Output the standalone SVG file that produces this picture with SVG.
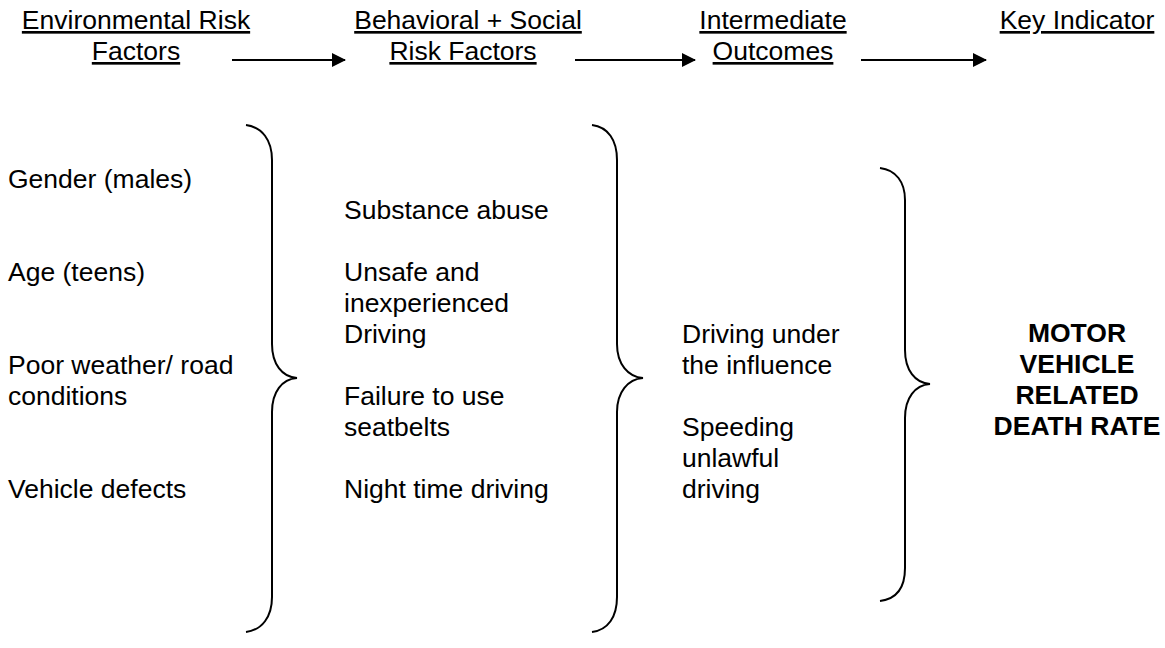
<svg xmlns="http://www.w3.org/2000/svg" width="1165" height="648" viewBox="0 0 1165 648">
<style>
text{font-family:"Liberation Sans",Arial,sans-serif;font-size:26.5px;fill:#000}
.h{text-anchor:middle;text-decoration:underline}
.b{font-weight:bold;text-anchor:middle}
.brace{fill:none;stroke:#000;stroke-width:2}
.arr{stroke:#000;stroke-width:2;fill:none}
</style>
<defs>
<marker id="ah" markerWidth="14" markerHeight="14" viewBox="0 0 14 14" refX="13" refY="7" orient="auto" markerUnits="userSpaceOnUse">
<path d="M0,0 L14,7 L0,14 Z" fill="#000"/>
</marker>
</defs>
<rect width="1165" height="648" fill="#fff"/>
<g id="header-env"><text class="h" x="136" y="29">Environmental Risk</text><text class="h" x="136" y="60">Factors</text></g>
<g id="header-beh"><text class="h" x="468" y="29">Behavioral + Social</text><text class="h" x="463" y="60">Risk Factors</text></g>
<g id="header-int"><text class="h" x="773" y="29">Intermediate</text><text class="h" x="773" y="60">Outcomes</text></g>
<g id="header-key"><text class="h" x="1077" y="29">Key Indicator</text></g>
<g id="connectors">
<line class="arr" x1="232" y1="60" x2="345" y2="60" marker-end="url(#ah)"/>
<line class="arr" x1="575" y1="60" x2="695" y2="60" marker-end="url(#ah)"/>
<line class="arr" x1="861" y1="60" x2="986" y2="60" marker-end="url(#ah)"/>
</g>
<g id="env-factors">
<text x="8" y="188">Gender (males)</text>
<text x="8" y="281">Age (teens)</text>
<text x="8" y="374">Poor weather/ road</text>
<text x="8" y="405">conditions</text>
<text x="8" y="498">Vehicle defects</text>
</g>
<g id="brace-1"><path class="brace" d="M246,125 C262,127 272,140 272,160 L272,344 C272,364 282,377 297,378 C282,379 272,392 272,412 L272,597 C272,617 262,630 246,632"/></g>
<g id="behavioral-factors">
<text x="344" y="219">Substance abuse</text>
<text x="344" y="281">Unsafe and</text>
<text x="344" y="312">inexperienced</text>
<text x="344" y="343">Driving</text>
<text x="344" y="405">Failure to use</text>
<text x="344" y="436">seatbelts</text>
<text x="344" y="498">Night time driving</text>
</g>
<g id="brace-2"><path class="brace" d="M592,125 C608,127 617,140 617,160 L617,344 C617,364 628,377 643,378 C628,379 617,392 617,412 L617,597 C617,617 608,630 592,632"/></g>
<g id="intermediate-outcomes">
<text x="682" y="343">Driving under</text>
<text x="682" y="374">the influence</text>
<text x="682" y="436">Speeding</text>
<text x="682" y="467">unlawful</text>
<text x="682" y="498">driving</text>
</g>
<g id="brace-3"><path class="brace" d="M880,168 C896,170 905,182 905,200 L905,350 C905,370 915,383 930,384 C915,385 905,398 905,418 L905,568 C905,588 896,599 880,601"/></g>
<g id="key-indicator">
<text class="b" x="1077" y="342">MOTOR</text>
<text class="b" x="1077" y="373">VEHICLE</text>
<text class="b" x="1077" y="404">RELATED</text>
<text class="b" x="1077" y="435">DEATH RATE</text>
</g>
</svg>
